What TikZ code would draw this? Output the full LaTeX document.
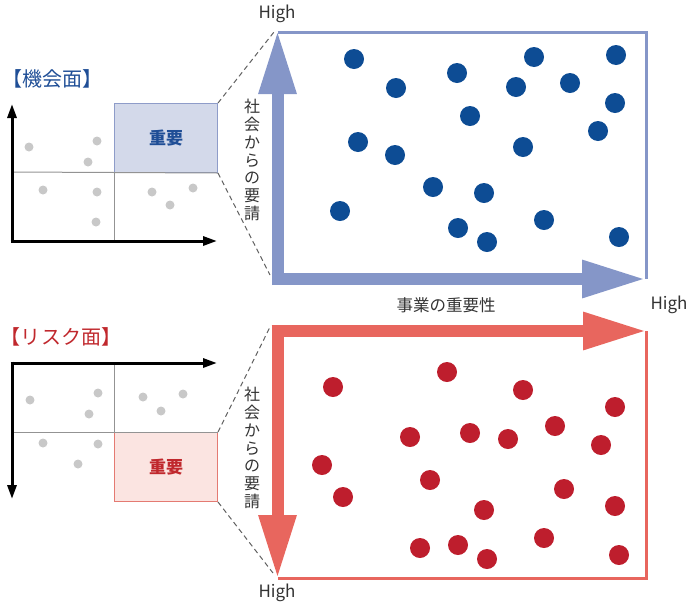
\documentclass[tikz,border=0pt]{standalone}
\usepackage{fontspec}
\setmainfont{Noto Sans CJK JP}
\usetikzlibrary{arrows.meta}
\definecolor{bluearrow}{HTML}{8596C8}
\definecolor{redarrow}{HTML}{E8665E}
\definecolor{bluedot}{HTML}{0D4C94}
\definecolor{reddot}{HTML}{BE1E2D}
\definecolor{bluefill}{HTML}{D3D9EA}
\definecolor{redfill}{HTML}{FBE4E1}
\definecolor{blueedge}{HTML}{8E9CC9}
\definecolor{rededge}{HTML}{E47A72}
\definecolor{bluetext}{HTML}{1F4E96}
\definecolor{redtext}{HTML}{C0282D}
\definecolor{greydot}{HTML}{C8C8C8}
\definecolor{txt}{HTML}{333333}
\newcommand{\vstack}[1]{\parbox{20pt}{\centering\fontsize{16}{17.8}\selectfont #1}}
\begin{document}
\begin{tikzpicture}[x=1pt,y=-1pt,
  bigarrow/.style={line width=12pt,-{Triangle[length=64pt,width=35pt]}},
  axisline/.style={line width=3pt,-{Triangle[length=14pt,width=9pt]}},
  gridline/.style={draw=gray!85, line width=1pt},
  frameline/.style={line width=3pt},
  guide/.style={dashed, draw=gray!75!black, line width=1pt, dash pattern=on 5pt off 3.5pt},
  label/.style={text=txt, inner sep=0pt},
  hightxt/.style={label, font=\fontsize{17}{17}\selectfont},
  vtxt/.style={label},
  title/.style={inner sep=0pt, font=\fontsize{20}{20}\selectfont},
  keybox/.style={line width=1pt, minimum width=103pt, minimum height=69pt, inner sep=0pt, anchor=north west, font=\fontsize{17}{17}\selectfont\bfseries},
]
\useasboundingbox (0,0) rectangle (700,611);

% ---------- top small chart ----------
\node[title, text=bluetext] (titleA) at (52.5,79) {【機会面】};
\node[keybox, draw=blueedge, fill=bluefill, text=bluetext] (boxA) at (114,103) {重要};
\draw[gridline] (12,172) -- (boxA.south east);
\draw[gridline] (boxA.south west) -- (114,241);
\draw[axisline] (12,242.5) -- (12,104);
\draw[axisline] (10.5,241) -- (217,241);
\foreach \p in {(29,147),(97,141),(88,162),(43,190),(97,192),(96,222),(152,192),(170,205),(193,188)}
  \fill[greydot] \p circle (4.5pt);

% ---------- top big chart ----------
\coordinate (blueTop) at (274,32);
\coordinate (blueLow) at (270,275);
\draw[guide] (boxA.north east) -- (blueTop);
\draw[guide] (boxA.south east) -- (blueLow);
\draw[frameline, bluearrow] (277.5,32) -- (646,32) -- (646,279);
\draw[bigarrow, bluearrow] (277.5,285) -- (277.5,30);
\draw[bigarrow, bluearrow] (271.5,279) -- (646,279);
\foreach \p in {(354,59),(396,88),(457,73),(534,57),(616,55),(516,87),(570,83),(615,103),(470,116),(358,142),(395,155),(523,147),(598,131),(433,187),(484,193),(340,211),(458,228),(487,242),(544,220),(619,237)}
  \fill[bluedot] \p circle (10pt);
\node[hightxt] (highA) at (277,14) {High};
\node[vtxt] (vA) at (252,160) {\vstack{社\\会\\か\\ら\\の\\要\\請}};
\node[label, font=\fontsize{16.5}{16.5}\selectfont] (xlab) at (446,305) {事業の重要性};
\node[hightxt] (highX) at (669,305) {High};

% ---------- bottom small chart ----------
\node[title, text=redtext] (titleB) at (61,337) {【リスク面】};
\node[keybox, draw=rededge, fill=redfill, text=redtext] (boxB) at (114,432) {重要};
\draw[gridline] (12,432) -- (boxB.north east);
\draw[gridline] (114,363) -- (boxB.north west);
\draw[axisline] (10.5,363) -- (217,363);
\draw[axisline] (12,361.5) -- (12,499);
\foreach \p in {(30,400),(98,393),(89,414),(143,397),(183,394),(161,411),(43,443),(98,444),(78,464)}
  \fill[greydot] \p circle (4.5pt);

% ---------- bottom big chart ----------
\coordinate (redTop) at (270,327);
\coordinate (redLow) at (273,573);
\draw[guide] (boxB.north east) -- (redTop);
\draw[guide] (boxB.south east) -- (redLow);
\draw[frameline, redarrow] (646,331) -- (646,578) -- (277.5,578);
\draw[bigarrow, redarrow] (277.5,325) -- (277.5,579);
\draw[bigarrow, redarrow] (271.5,331) -- (647,331);
\foreach \p in {(333,387),(447,372),(523,390),(615,407),(555,426),(410,437),(470,433),(508,439),(601,445),(322,465),(343,497),(430,480),(564,489),(615,506),(484,510),(544,538),(420,548),(458,545),(487,559),(619,555)}
  \fill[reddot] \p circle (10pt);
\node[vtxt] (vB) at (252,448) {\vstack{社\\会\\か\\ら\\の\\要\\請}};
\node[hightxt] (highB) at (277,593) {High};
\end{tikzpicture}
\end{document}
